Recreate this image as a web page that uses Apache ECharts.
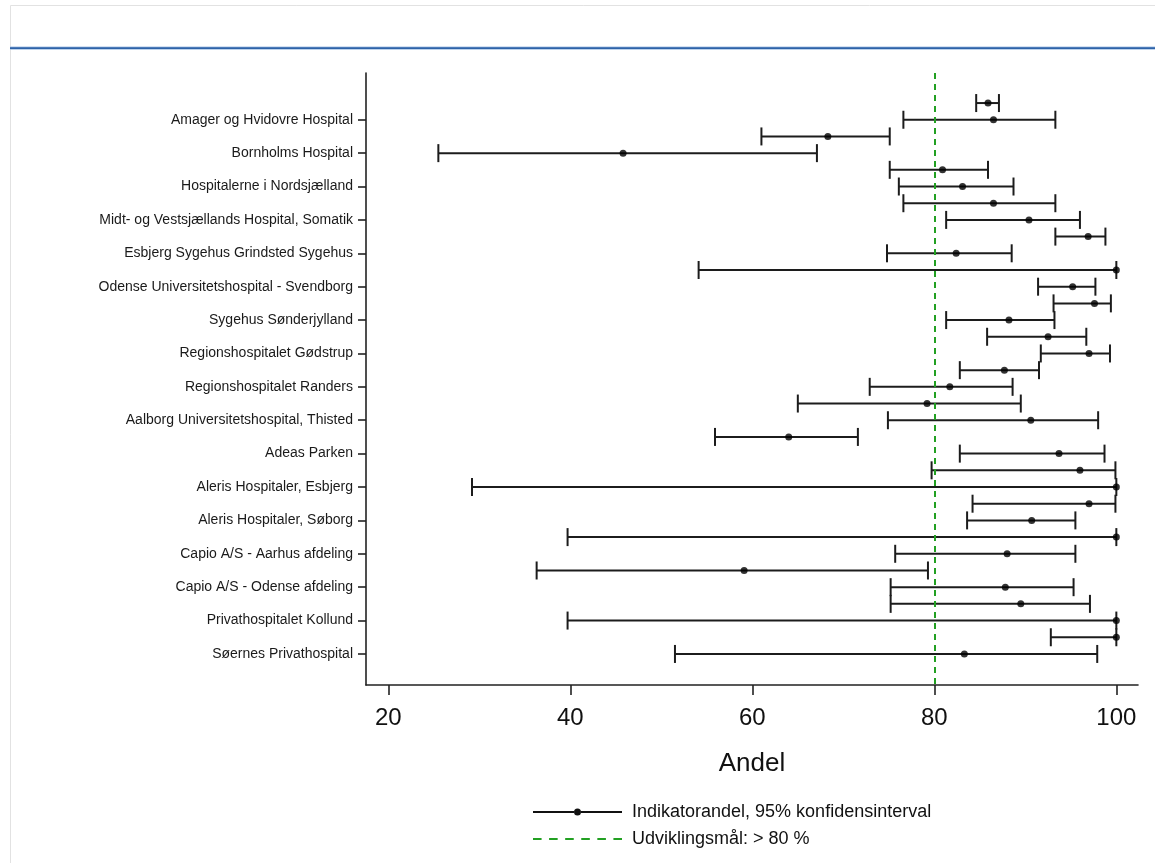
<!DOCTYPE html>
<html>
<head>
<meta charset="utf-8">
<script src="https://cdn.jsdelivr.net/npm/echarts@6/dist/echarts.min.js"></script>
<style>
html,body{margin:0;padding:0;background:#fff;}
#c{width:1155px;height:863px;}
</style>
</head>
<body>
<div id="c"></div>
<script>
// Hospital labels (one per label row)
var hospitals = [
  "Amager og Hvidovre Hospital",
  "Bornholms Hospital",
  "Hospitalerne i Nordsjælland",
  "Midt- og Vestsjællands Hospital, Somatik",
  "Esbjerg Sygehus Grindsted Sygehus",
  "Odense Universitetshospital - Svendborg",
  "Sygehus Sønderjylland",
  "Regionshospitalet Gødstrup",
  "Regionshospitalet Randers",
  "Aalborg Universitetshospital, Thisted",
  "Adeas Parken",
  "Aleris Hospitaler, Esbjerg",
  "Aleris Hospitaler, Søborg",
  "Capio A/S - Aarhus afdeling",
  "Capio A/S - Odense afdeling",
  "Privathospitalet Kollund",
  "Søernes Privathospital"
];
// Row positions (1 = top row)
var rows = [1,2,3,4,5,6,7,8,9,10,11,12,13,14,15,16,17,18,19,20,21,22,23,24,25,26,27,28,29,30,31,32,33,34];
// Label rows on the y axis
var labelRows = [2,4,6,8,10,12,14,16,18,20,22,24,26,28,30,32,34];
// Indicator share (point estimate), lower and upper 95% CI
var estimate = [85.9, 86.5, 68.3, 45.8, 80.9, 83.1, 86.5, 90.4, 96.9, 82.4, 100, 95.2, 97.6, 88.2, 92.5, 97.0, 87.7, 81.7, 79.2, 90.6, 64.0, 93.7, 96.0, 100, 97.0, 90.7, 100, 88.0, 59.1, 87.8, 89.5, 100, 100, 83.3];
var lower    = [84.6, 76.6, 61.0, 25.5, 75.1, 76.1, 76.6, 81.3, 93.3, 74.8, 54.1, 91.4, 93.1, 81.3, 85.8, 91.7, 82.8, 72.9, 65.0, 74.9, 55.9, 82.8, 79.7, 29.2, 84.2, 83.6, 39.7, 75.7, 36.3, 75.2, 75.2, 39.7, 92.8, 51.5];
var upper    = [87.1, 93.3, 75.1, 67.1, 85.9, 88.7, 93.3, 96.0, 98.8, 88.5, 100, 97.7, 99.4, 93.2, 96.7, 99.3, 91.5, 88.6, 89.5, 98.0, 71.6, 98.7, 99.9, 100, 99.9, 95.5, 100, 95.5, 79.3, 95.3, 97.1, 100, 100, 97.9];
var xTicks = [20, 40, 60, 80, 100];
var targetValue = [80];
var seriesNames = ["Indikatorandel, 95% konfidensinterval", "Udviklingsmål: > 80 %"];

var ciData = rows.map(function(r, i){ return [r, lower[i], upper[i]]; });
var ptData = rows.map(function(r, i){ return [estimate[i], r]; });

var FONT = "'Liberation Sans', Arial, Helvetica, sans-serif";
var chart = echarts.init(document.getElementById('c'), null, {renderer: 'canvas'});

chart.setOption({
  animation: false,
  backgroundColor: '#ffffff',
  textStyle: {fontFamily: FONT},
  graphic: [
    {type: 'rect', shape: {x: 10.5, y: 5.5, width: 1300, height: 1000}, style: {fill: 'none', stroke: '#e2e2e2', lineWidth: 1}, silent: true, z: 0},
    {type: 'rect', shape: {x: 10, y: 46.5, width: 1150, height: 3.2}, style: {fill: '#a9c4e6'}, silent: true, z: 1},
    {type: 'rect', shape: {x: 10, y: 47.2, width: 1150, height: 1.8}, style: {fill: '#2f63a8'}, silent: true, z: 2}
  ],
  grid: {left: 366, top: 73, right: 17, bottom: 178, containLabel: false},
  xAxis: {
    type: 'value',
    position: 'bottom',
    min: 17.55,
    max: 102.38,
    name: 'Andel',
    nameLocation: 'middle',
    nameGap: 66,
    nameTextStyle: {fontSize: 26, color: '#111', fontFamily: FONT},
    axisLine: {show: true, onZero: false, lineStyle: {color: '#222', width: 1.6}},
    axisTick: {show: true, length: 10, customValues: xTicks, lineStyle: {color: '#222', width: 1.6}},
    axisLabel: {show: true, customValues: xTicks, margin: 21, fontSize: 24, color: '#111', fontFamily: FONT},
    splitLine: {show: false}
  },
  yAxis: {
    type: 'value',
    inverse: true,
    min: -0.8,
    max: 35.86,
    axisLine: {show: true, onZero: false, lineStyle: {color: '#222', width: 1.6}},
    axisTick: {show: true, length: 8, customValues: labelRows, lineStyle: {color: '#222', width: 1.6}},
    axisLabel: {
      show: true, customValues: labelRows, margin: 13, fontSize: 14, color: '#1a1a1a', fontFamily: FONT,
      formatter: function(v){ var k = Math.round(v/2) - 1; return hospitals[k] || ''; }
    },
    splitLine: {show: false}
  },
  legend: {
    orient: 'vertical',
    left: 528,
    top: 798,
    itemWidth: 89,
    itemHeight: 8,
    itemGap: 9,
    selectedMode: false,
    textStyle: {fontSize: 18, color: '#111', fontFamily: FONT, lineHeight: 18, padding: [0,0,0,5]},
    data: [
      {name: seriesNames[0], icon: 'path://M0,3.1H41V4.9H0Z M48,3.1H89V4.9H48Z M41,4A3.5,3.5,0,1,1,48,4A3.5,3.5,0,1,1,41,4Z'},
      {name: seriesNames[1], icon: 'path://M0,3H8V5H0Z M15,3H23V5H15Z M30,3H38V5H30Z M45,3H53V5H45Z M60,3H68V5H60Z M75,3H83V5H75Z'}
    ]
  },
  series: [
    {
      name: seriesNames[1],
      type: 'line',
      data: [],
      itemStyle: {color: '#22a022'},
      lineStyle: {color: '#22a022'},
      markLine: {
        silent: true,
        symbol: ['none', 'none'],
        label: {show: false},
        lineStyle: {color: '#22a022', width: 2, type: [6, 5]},
        data: targetValue.map(function(v){ return {xAxis: v}; })
      },
      z: 1
    },
    {
      name: seriesNames[0],
      type: 'custom',
      itemStyle: {color: '#111'},
      encode: {x: [1, 2], y: 0},
      data: ciData,
      renderItem: function(params, api){
        var y = api.value(0), lo = api.value(1), hi = api.value(2);
        var a = api.coord([lo, y]), b = api.coord([hi, y]);
        var h = 9;
        var st = {stroke: '#1c1c1c', lineWidth: 2};
        return {type: 'group', children: [
          {type: 'line', shape: {x1: a[0], y1: a[1], x2: b[0], y2: b[1]}, style: st},
          {type: 'line', shape: {x1: a[0], y1: a[1]-h, x2: a[0], y2: a[1]+h}, style: st},
          {type: 'line', shape: {x1: b[0], y1: b[1]-h, x2: b[0], y2: b[1]+h}, style: st}
        ]};
      },
      z: 2
    },
    {
      name: 'estimate',
      type: 'scatter',
      data: ptData,
      symbol: 'circle',
      symbolSize: 7,
      itemStyle: {color: '#000'},
      z: 3
    }
  ]
});
</script>
</body>
</html>
